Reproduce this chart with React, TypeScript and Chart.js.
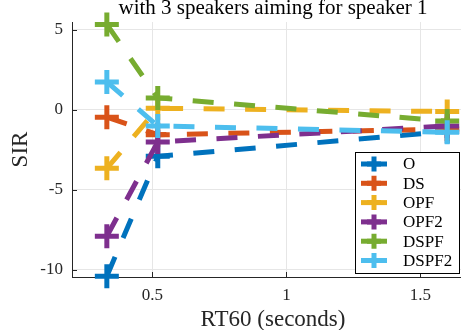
import React, { useEffect, useRef } from "react";
import { Chart, registerables } from "chart.js";

Chart.register(...registerables);

const rt60 = [0.33, 0.52, 1.6];
const seriesNames = ["O", "DS", "OPF", "OPF2", "DSPF", "DSPF2"];
const sirO = [-10.4, -2.9, -1.35];
const sirDS = [-0.45, -1.55, -1.2];
const sirOPF = [-3.65, 0.1, -0.1];
const sirOPF2 = [-7.9, -2.0, -1.0];
const sirDSPF = [5.35, 0.75, -0.7];
const sirDSPF2 = [1.75, -1.0, -1.4];
const seriesValues = [sirO, sirDS, sirOPF, sirOPF2, sirDSPF, sirDSPF2];
const seriesColors = ["#0072BD", "#D95319", "#EDB120", "#7E2F8E", "#77AC30", "#4DBEEE"];
const xTicks = [0.5, 1, 1.5];
const yTicks = [-10, -5, 0, 5];
const titleText = "with 3 speakers aiming for speaker 1";
const xLabel = "RT60 (seconds)";
const yLabel = "SIR";

const FONT = "'Liberation Serif', serif";

export default function App() {
  const ref = useRef<HTMLCanvasElement | null>(null);
  useEffect(() => {
    if (!ref.current) return;
    const overlay = {
      id: "overlay",
      afterDraw(chart: any) {
        const { ctx, chartArea } = chart;
        const ca = chartArea;
        ctx.save();
        // title
        ctx.fillStyle = "#000";
        ctx.font = `21px ${FONT}`;
        ctx.textAlign = "center";
        ctx.textBaseline = "alphabetic";
        ctx.fillText(titleText, (ca.left + ca.right) / 2, 13.5);
        // inward ticks
        ctx.strokeStyle = "#262626";
        ctx.lineWidth = 1;
        const xs = chart.scales.x;
        const ys = chart.scales.y;
        ctx.beginPath();
        xTicks.forEach((v) => {
          const px = Math.round(xs.getPixelForValue(v)) + 0.5;
          ctx.moveTo(px, ca.bottom);
          ctx.lineTo(px, ca.bottom - 5);
        });
        yTicks.forEach((v) => {
          const py = Math.round(ys.getPixelForValue(v)) + 0.5;
          ctx.moveTo(ca.left, py);
          ctx.lineTo(ca.left + 5, py);
        });
        ctx.stroke();
        // legend
        const bx = ca.right - 119;
        const bw = 104;
        const by = ca.bottom - 125;
        const bh = 121;
        ctx.fillStyle = "#fff";
        ctx.fillRect(bx, by, bw, bh);
        ctx.strokeStyle = "#000";
        ctx.lineWidth = 1;
        ctx.strokeRect(bx + 0.5, by + 0.5, bw, bh);
        ctx.font = `17px ${FONT}`;
        ctx.textAlign = "left";
        ctx.textBaseline = "middle";
        seriesNames.forEach((name, i) => {
          const cy = by + 12 + i * 19.3;
          const c = seriesColors[i];
          ctx.strokeStyle = c;
          ctx.lineWidth = 5;
          ctx.beginPath();
          ctx.moveTo(bx + 6, cy);
          ctx.lineTo(bx + 32, cy);
          ctx.stroke();
          ctx.beginPath();
          ctx.moveTo(bx + 19, cy - 7.5);
          ctx.lineTo(bx + 19, cy + 7.5);
          ctx.moveTo(bx + 12, cy);
          ctx.lineTo(bx + 26, cy);
          ctx.stroke();
          ctx.fillStyle = "#000";
          ctx.fillText(name, bx + 48, cy + 1);
        });
        ctx.restore();
      },
    };
    const chart = new Chart(ref.current, {
      type: "line",
      data: {
        datasets: seriesNames.map((name, i) => ({
          label: name,
          data: rt60.map((x, j) => ({ x, y: seriesValues[i][j] })),
          borderColor: seriesColors[i],
          backgroundColor: seriesColors[i],
          borderWidth: 5,
          borderDash: [21, 20.5],
          borderCapStyle: "butt",
          pointStyle: "cross",
          pointRadius: 12,
          pointBorderWidth: 5,
          pointBorderColor: seriesColors[i],
          pointHoverRadius: 12,
          fill: false,
          tension: 0,
          clip: false,
          order: seriesNames.length - i,
        })),
      },
      options: {
        animation: false,
        responsive: false,
        devicePixelRatio: 1,
        events: [],
        layout: { autoPadding: false, padding: { left: 0, top: 22, right: 0, bottom: 0 } },
        plugins: { legend: { display: false }, tooltip: { enabled: false }, title: { display: false } },
        scales: {
          x: {
            type: "linear",
            min: 0.2,
            max: 1.7,
            afterBuildTicks: (s: any) => {
              s.ticks = xTicks.map((v) => ({ value: v }));
            },
            afterFit: (s: any) => {
              s.height = 53;
              s.paddingLeft = 0;
              s.paddingRight = 0;
            },
            grid: { color: "#e6e6e6", lineWidth: 1, drawTicks: false },
            border: { color: "#262626", width: 1 },
            ticks: {
              padding: 8,
              color: "#262626",
              font: { family: FONT, size: 17 },
              maxRotation: 0,
              callback: (v: any) => String(v),
            },
            title: {
              display: true,
              text: xLabel,
              color: "#262626",
              font: { family: FONT, size: 23 },
              padding: { top: 0, bottom: -4 },
            },
          },
          y: {
            type: "linear",
            min: -10.45,
            max: 5.5,
            afterBuildTicks: (s: any) => {
              s.ticks = yTicks.map((v) => ({ value: v }));
            },
            afterFit: (s: any) => {
              s.width = 72;
              s.paddingTop = 0;
              s.paddingBottom = 0;
            },
            grid: { color: "#e6e6e6", lineWidth: 1, drawTicks: false },
            border: { color: "#262626", width: 1 },
            ticks: {
              padding: 9,
              color: "#262626",
              font: { family: FONT, size: 17 },
              callback: (v: any) => String(v),
            },
            title: {
              display: true,
              text: yLabel,
              color: "#262626",
              font: { family: FONT, size: 23 },
              padding: { top: 7, bottom: 0 },
            },
          },
        },
      },
      plugins: [overlay],
    } as any);
    return () => chart.destroy();
  }, []);
  return (
    <div
      style={{
        position: "fixed",
        left: 0,
        top: 0,
        width: 461,
        height: 330,
        overflow: "hidden",
        background: "#fff",
      }}
    >
      <canvas ref={ref} width={474} height={330} style={{ width: 474, height: 330, display: "block" }} />
    </div>
  );
}
